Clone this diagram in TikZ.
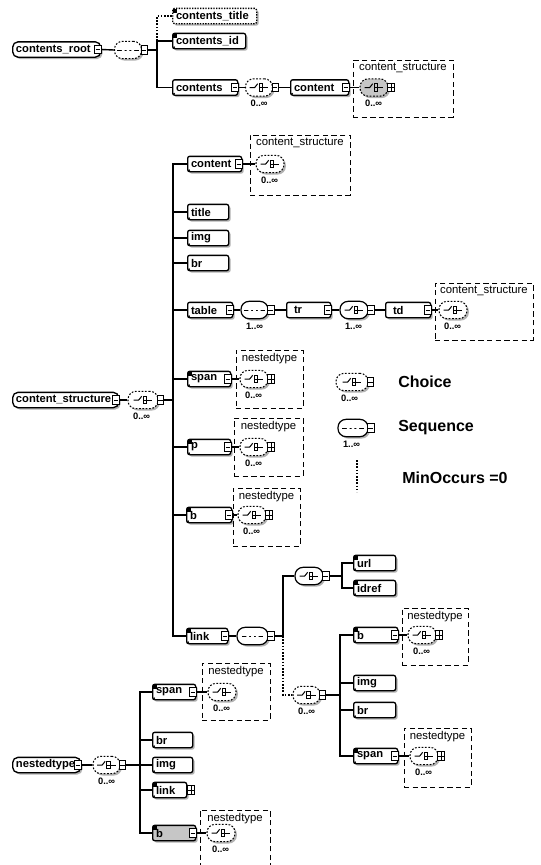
\documentclass[tikz,border=0pt]{standalone}
\usepackage{fontspec}
\setmainfont{Liberation Sans}
\usetikzlibrary{shadows,fit,calc}
\newcommand\elTL[1]{\fill ([shift={(1.1pt,-1.1pt)}]#1.north west) rectangle ++(2.8pt,-2.8pt);}
\newcommand\elBL[1]{\fill ([shift={(1.6pt,1.6pt)}]#1.south west) circle (0.8pt);}
\begin{document}
\begin{tikzpicture}[x=0.75pt,y=-0.75pt,
  shad/.style={general shadow={fill=gray!60, shadow xshift=1.4pt, shadow yshift=-1.4pt}},
  wpx/.code={\pgfmathsetmacro\tmpw{#1*0.75-5}\edef\tmpx{\noexpand\pgfkeysalso{text width=\tmpw pt}}\tmpx},
  cw/.code={\pgfmathsetmacro\tmpc{#1*0.75}\edef\tmpy{\noexpand\pgfkeysalso{minimum width=\tmpc pt}}\tmpy},
  el/.style={draw, line width=1pt, rounded corners=1.5pt, fill=white, anchor=west,
    minimum height=11.5pt, inner xsep=2.5pt, inner ysep=0pt, align=left,
    font=\fontsize{8.4}{9}\selectfont\bfseries, shad},
  root/.style={rounded corners=4pt},
  optel/.style={dash pattern=on 1pt off 1pt},
  mbox/.style={draw, fill=white, line width=0.6pt, sharp corners, minimum width=4.8pt, minimum height=6.4pt, inner sep=0pt,
    path picture={\draw[line width=0.5pt, solid] ([xshift=0.7pt]path picture bounding box.west) -- ([xshift=-0.7pt]path picture bounding box.east);}},
  pbox/.style={draw, fill=white, line width=0.6pt, sharp corners, minimum width=5.4pt, minimum height=6.4pt, inner sep=0pt,
    path picture={\draw[line width=0.5pt, solid] (path picture bounding box.west) -- (path picture bounding box.east) (path picture bounding box.north) -- (path picture bounding box.south);}},
  comp/.style={draw, line width=0.9pt, rounded corners=6pt, fill=white, minimum height=13pt, inner sep=0pt, shad},
  opt/.style={dash pattern=on 1.3pt off 1.2pt, line width=0.8pt},
  grey/.style={fill=gray!45},
  choice/.style={comp, path picture={\begin{scope}[shift={(path picture bounding box.center)}, x=1pt, y=1pt, solid, line width=0.75pt, sharp corners]
      \draw (-7,0) -- (-3.2,0) -- (-1,2.8);
      \draw (0,2.8) -- (2.8,2.8) -- (2.8,-2.8) -- (0,-2.8) -- cycle;
      \draw (0,0) -- (7,0);
      \end{scope}}},
  seq/.style={comp, path picture={\begin{scope}[shift={(path picture bounding box.center)}, x=1pt, y=1pt, solid, line width=0.75pt, sharp corners]
      \draw (-8,0) -- (8,0);
      \fill (-4.6,-1) rectangle (-2.6,1) (-1,-1) rectangle (1,1) (2.6,-1) rectangle (4.6,1);
      \end{scope}}},
  mult/.style={font=\fontsize{7}{7}\selectfont\bfseries, inner sep=0.5pt, anchor=north west},
  tbox/.style={draw, dash pattern=on 4pt off 2.5pt, line width=0.6pt, inner sep=0pt},
  tlab/.style={font=\fontsize{8.5}{9}\selectfont, inner sep=1pt, anchor=north},
  conn/.style={line width=1.05pt},
  oconn/.style={line width=1pt, dash pattern=on 1.2pt off 1.2pt},
  leg/.style={font=\fontsize{12}{14}\selectfont\bfseries, anchor=west, inner sep=0pt}
]
\path[use as bounding box, fill=white] (0,0) rectangle (540,865);

% ================= Section 1 =================
\node[el, root, wpx=88] (croot) at (12,49.5) {contents\_root};
\node[mbox] (crootm) at ([xshift=-2.6pt]croot.east) {};
\node[seq, opt, cw=27] (s1) at (128,50) {};
\node[mbox] (s1m) at ([xshift=1.6pt]s1.east) {};
\coordinate (bus1) at (157,50);
\node[el, optel, wpx=84] (ctitle) at (172,16) {contents\_title};
\node[el, wpx=73] (cid) at (172,41) {contents\_id};
\node[el, wpx=65] (cont) at (172,87.5) {contents};
\node[mbox] (contm) at ([xshift=-2.6pt]cont.east) {};
\node[choice, opt, cw=27] (c2) at (259,87.5) {};
\node[mbox] (c2m) at ([xshift=1.6pt]c2.east) {};
\node[mult] (c2n) at ([shift={(3.5pt,-2pt)}]c2.south west) {0..∞};
\node[el, wpx=58] (content1) at (290,87.5) {content};
\node[mbox] (content1m) at ([xshift=-2.6pt]content1.east) {};
\node[tbox, fit={(353,60) (453,117)}] (tb1) {};
\node[tlab] (tb1l) at ([yshift=-1.5pt]tb1.north) {content\_structure};
\node[choice, opt, grey, cw=28] (g1) at (374,87.5) {};
\node[pbox] (g1p) at ([xshift=2pt]g1.east) {};
\node[mult] (g1n) at ([shift={(3.5pt,-2pt)}]g1.south west) {0..∞};
\elTL{ctitle}\elTL{cid}\elBL{cid}\elBL{cont}\elBL{content1}
\draw[conn] (crootm.east) -- (s1.west);
\draw[conn] (s1m.east) -- (bus1);
\draw[conn] (bus1) |- (cid.west);
\draw[conn] (bus1) |- (cont.west);
\draw[oconn] (bus1 |- cid.west) |- (ctitle.west);
\draw[conn] (contm.east) -- (c2.west);
\draw[conn] (c2m.east) -- (content1.west);
\draw[conn] (content1m.east) -- (g1.west);

% ================= Section 2 =================
\node[el, root, wpx=106] (cs) at (12,400) {content\_structure};
\node[mbox] (csm) at ([xshift=-2.6pt]cs.east) {};
\node[choice, opt, cw=30] (c3) at (143,400) {};
\node[mbox] (c3m) at ([xshift=1.6pt]c3.east) {};
\node[mult] (c3n) at ([shift={(3.5pt,-2pt)}]c3.south west) {0..∞};
\coordinate (bus2) at (173,400);

\node[el, wpx=54] (content2) at (187,164) {content};
\node[mbox] (content2m) at ([xshift=-2.6pt]content2.east) {};
\node[tbox, fit={(250,135) (350,195)}] (tb2) {};
\node[tlab] (tb2l) at ([yshift=-1.5pt]tb2.north) {content\_structure};
\node[choice, opt, cw=28] (g2) at (270,164) {};
\node[mult] (g2n) at ([shift={(3.5pt,-2pt)}]g2.south west) {0..∞};

\node[el, wpx=41] (title) at (187,212) {title};
\node[el, wpx=41] (img) at (187,238) {img};
\node[el, wpx=41] (br) at (187,263) {br};

\node[el, wpx=45] (table) at (187,310) {table};
\node[mbox] (tablem) at ([xshift=-2.6pt]table.east) {};
\node[seq, cw=27] (s3) at (254.5,310) {};
\node[mbox] (s3m) at ([xshift=1.6pt]s3.east) {};
\node[mult] (s3n) at ([shift={(3.5pt,-2pt)}]s3.south west) {1..∞};
\node[el, wpx=44] (tr) at (286,310) {\hspace*{3pt}tr};
\node[mbox] (trm) at ([xshift=-2.6pt]tr.east) {};
\node[choice, cw=28] (c4) at (354,310) {};
\node[mbox] (c4m) at ([xshift=1.6pt]c4.east) {};
\node[mult] (c4n) at ([shift={(3.5pt,-2pt)}]c4.south west) {1..∞};
\node[el, wpx=45] (td) at (385,310) {\hspace*{3pt}td};
\node[mbox] (tdm) at ([xshift=-2.6pt]td.east) {};
\node[tbox, fit={(435,283) (533,340)}] (tb3) {};
\node[tlab] (tb3l) at ([yshift=-1.5pt]tb3.north) {content\_structure};
\node[choice, opt, cw=28] (g3) at (453,310) {};
\node[mult] (g3n) at ([shift={(3.5pt,-2pt)}]g3.south west) {0..∞};

\node[el, wpx=43] (span) at (187,379) {span};
\node[mbox] (spanm) at ([xshift=-2.6pt]span.east) {};
\node[tbox, fit={(236,350) (303,408)}] (tb4) {};
\node[tlab] (tb4l) at ([yshift=-1.5pt]tb4.north) {nestedtype};
\node[choice, opt, cw=28] (g4) at (254,379) {};
\node[pbox] (g4p) at ([xshift=2pt]g4.east) {};
\node[mult] (g4n) at ([shift={(3.5pt,-2pt)}]g4.south west) {0..∞};

\node[el, wpx=43] (p) at (187,447) {p};
\node[mbox] (pm) at ([xshift=-2.6pt]p.east) {};
\node[tbox, fit={(234,418) (303,476)}] (tb5) {};
\node[tlab] (tb5l) at ([yshift=-1.5pt]tb5.north) {nestedtype};
\node[choice, opt, cw=28] (g5) at (254,447) {};
\node[pbox] (g5p) at ([xshift=2pt]g5.east) {};
\node[mult] (g5n) at ([shift={(3.5pt,-2pt)}]g5.south west) {0..∞};

\node[el, wpx=45] (b) at (186,515) {b};
\node[mbox] (bm) at ([xshift=-2.6pt]b.east) {};
\node[tbox, fit={(233,488) (300,546)}] (tb6) {};
\node[tlab] (tb6l) at ([yshift=-1.5pt]tb6.north) {nestedtype};
\node[choice, opt, cw=28] (g6) at (252,515) {};
\node[pbox] (g6p) at ([xshift=2pt]g6.east) {};
\node[mult] (g6n) at ([shift={(3.5pt,-2pt)}]g6.south west) {0..∞};

\node[el, wpx=41] (link) at (186,636) {link};
\node[mbox] (linkm) at ([xshift=-2.6pt]link.east) {};
\node[seq, cw=31] (s4) at (252.5,636) {};
\node[mbox] (s4m) at ([xshift=1.6pt]s4.east) {};
\coordinate (bus3) at (283,636);
\node[choice, cw=28] (c5) at (309,576) {};
\node[mbox] (c5m) at ([xshift=1.6pt]c5.east) {};
\coordinate (bus4) at (342,576);
\node[el, wpx=42] (url) at (353,563) {url};
\node[el, wpx=42] (idref) at (353,588) {idref};
\node[choice, opt, cw=27] (c6) at (306.5,695) {};
\node[mbox] (c6m) at ([xshift=1.6pt]c6.east) {};
\node[mult] (c6n) at ([shift={(3.5pt,-2pt)}]c6.south west) {0..∞};
\coordinate (bus5) at (340,695);
\node[el, wpx=44] (b2) at (353,635) {b};
\node[mbox] (b2m) at ([xshift=-2.6pt]b2.east) {};
\node[tbox, fit={(402,608) (468,665)}] (tb7) {};
\node[tlab] (tb7l) at ([yshift=-1.5pt]tb7.north) {nestedtype};
\node[choice, opt, cw=28] (g7) at (422,635) {};
\node[pbox] (g7p) at ([xshift=2pt]g7.east) {};
\node[mult] (g7n) at ([shift={(3.5pt,-2pt)}]g7.south west) {0..∞};
\node[el, wpx=42] (img2) at (353,683) {img};
\node[el, wpx=42] (br2) at (353,710) {br};
\node[el, wpx=44] (span2) at (353,756) {span};
\node[mbox] (span2m) at ([xshift=-2.6pt]span2.east) {};
\node[tbox, fit={(404,728) (471,787)}] (tb8) {};
\node[tlab] (tb8l) at ([yshift=-1.5pt]tb8.north) {nestedtype};
\node[choice, opt, cw=28] (g8) at (424,756) {};
\node[pbox] (g8p) at ([xshift=2pt]g8.east) {};
\node[mult] (g8n) at ([shift={(3.5pt,-2pt)}]g8.south west) {0..∞};

\elBL{content2}\elBL{title}\elBL{img}\elBL{br}\elBL{table}
\elTL{span}\elBL{span}\elTL{p}\elBL{p}\elTL{b}\elBL{b}\elTL{link}\elBL{link}
\elTL{url}\elBL{url}\elTL{idref}\elBL{idref}\elTL{b2}\elBL{b2}\elBL{img2}\elBL{br2}\elTL{span2}\elBL{span2}

\draw[conn] (csm.east) -- (c3.west);
\draw[conn] (c3m.east) -- (bus2);
\foreach \n in {content2,title,img,br,table,span,p,b,link} \draw[conn] (bus2) |- (\n.west);
\draw[conn] (content2m.east) -- (g2.west);
\draw[conn] (tablem.east) -- (s3.west);
\draw[conn] (s3m.east) -- (tr.west);
\draw[conn] (trm.east) -- (c4.west);
\draw[conn] (c4m.east) -- (td.west);
\draw[conn] (tdm.east) -- (g3.west);
\draw[conn] (spanm.east) -- (g4.west);
\draw[conn] (pm.east) -- (g5.west);
\draw[conn] (bm.east) -- (g6.west);
\draw[conn] (linkm.east) -- (s4.west);
\draw[conn] (s4m.east) -- (bus3);
\draw[conn] (bus3) |- (c5.west);
\draw[oconn] (bus3) |- (c6.west);
\draw[conn] (c5m.east) -- (bus4);
\draw[conn] (bus4) |- (url.west);
\draw[conn] (bus4) |- (idref.west);
\draw[conn] (c6m.east) -- (bus5);
\foreach \n in {b2,img2,br2,span2} \draw[conn] (bus5) |- (\n.west);
\draw[conn] (b2m.east) -- (g7.west);
\draw[conn] (span2m.east) -- (g8.west);

% ================= Legend =================
\node[choice, opt, cw=32] (lc) at (352,382) {};
\node[mbox] (lcm) at ([xshift=1.6pt]lc.east) {};
\node[mult] (lcn) at ([shift={(3.5pt,-2pt)}]lc.south west) {0..∞};
\node[leg] (lct) at (398,382) {Choice};
\node[seq, cw=30] (ls) at (353,428) {};
\node[mbox] (lsm) at ([xshift=1.6pt]ls.east) {};
\node[mult] (lsn) at ([shift={(3.5pt,-2pt)}]ls.south west) {1..∞};
\node[leg] (lst) at (398,428) {Sequence};
\coordinate (ld1) at (357,460);
\coordinate (ld2) at (357,492);
\draw[oconn] (ld1) -- (ld2);
\node[leg] (lmt) at (402,478) {MinOccurs =0};

% ================= Section 3 =================
\node[el, root, wpx=68] (nt) at (12,765) {nestedtype};
\node[mbox] (ntm) at ([xshift=-2.6pt]nt.east) {};
\node[choice, opt, cw=27] (c7) at (106.5,765) {};
\node[mbox] (c7m) at ([xshift=1.6pt]c7.east) {};
\node[mult] (c7n) at ([shift={(3.5pt,-2pt)}]c7.south west) {0..∞};
\coordinate (bus6) at (140,765);
\node[el, wpx=43] (span3) at (152,692) {span};
\node[mbox] (span3m) at ([xshift=-2.6pt]span3.east) {};
\node[tbox, fit={(202,663) (270,720)}] (tb9) {};
\node[tlab] (tb9l) at ([yshift=-1.5pt]tb9.north) {nestedtype};
\node[choice, opt, cw=28] (g9) at (222,692) {};
\node[mult] (g9n) at ([shift={(3.5pt,-2pt)}]g9.south west) {0..∞};
\node[el, wpx=40] (br3) at (152,740) {br};
\node[el, wpx=40] (img3) at (152,765) {img};
\node[el, wpx=34] (link3) at (152,790) {link};
\node[pbox] (link3p) at (191,790) {};
\node[el, wpx=43, fill=gray!45] (b3) at (152,833) {b};
\node[mbox] (b3m) at ([xshift=-2.6pt]b3.east) {};
\node[tbox, fit={(200,810) (270,868)}] (tb10) {};
\node[tlab] (tb10l) at ([yshift=-1.5pt]tb10.north) {nestedtype};
\node[choice, opt, cw=28] (g10) at (221,833) {};
\node[mult] (g10n) at ([shift={(3.5pt,-2pt)}]g10.south west) {0..∞};
\elTL{span3}\elBL{span3}\elBL{br3}\elBL{img3}\elTL{link3}\elBL{link3}\elTL{b3}
\draw[conn] (ntm.east) -- (c7.west);
\draw[conn] (c7m.east) -- (bus6);
\foreach \n in {span3,br3,img3,link3,b3} \draw[conn] (bus6) |- (\n.west);
\draw[conn] (span3m.east) -- (g9.west);
\draw[conn] (b3m.east) -- (g10.west);
\end{tikzpicture}
\end{document}
